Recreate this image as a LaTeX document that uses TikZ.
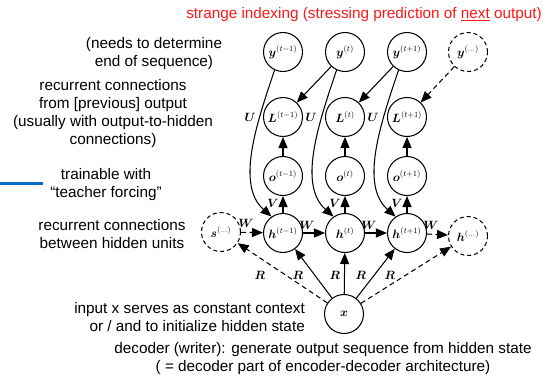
\documentclass[tikz,border=0pt]{standalone}
\usepackage{fontspec}
\setmainfont{Liberation Sans}
\usepackage{bm}
\usetikzlibrary{arrows.meta}
\definecolor{titlered}{RGB}{255,24,24}
\definecolor{markblue}{RGB}{0,108,196}
\begin{document}
\begin{tikzpicture}[x=1pt, y=-1pt,
  unit/.style={circle, draw, line width=1.05pt, minimum size=39pt, inner sep=0pt,
               font=\fontsize{12}{14}\selectfont},
  ghost/.style={unit, dash pattern=on 4pt off 3pt},
  arr/.style={-{Triangle[length=11pt,width=9pt]}, line width=1.05pt},
  dsh/.style={dash pattern=on 5pt off 3.5pt},
  lbl/.style={font=\fontsize{12}{14}\selectfont, inner sep=0pt},
  note/.style={font=\fontsize{15.3}{18}\selectfont, align=center, inner sep=0pt}]
\useasboundingbox (0,0) rectangle (543,380);

% output targets
\node[unit]  (y1) at (283,52)  {$\bm{y}^{(t-1)}$};
\node[unit]  (y2) at (345,52)  {$\bm{y}^{(t)}$};
\node[unit]  (y3) at (407,52)  {$\bm{y}^{(t+1)}$};
\node[ghost] (yd) at (468,52)  {$\bm{y}^{(\dots)}$};
% losses
\node[unit] (L1) at (283,117) {$\bm{L}^{(t-1)}$};
\node[unit] (L2) at (345,117) {$\bm{L}^{(t)}$};
\node[unit] (L3) at (407,117) {$\bm{L}^{(t+1)}$};
% outputs
\node[unit] (o1) at (283,176) {$\bm{o}^{(t-1)}$};
\node[unit] (o2) at (345,176) {$\bm{o}^{(t)}$};
\node[unit] (o3) at (407,176) {$\bm{o}^{(t+1)}$};
% hidden states
\node[ghost] (s)  at (221,232) {$\bm{s}^{(\dots)}$};
\node[unit]  (h1) at (283,233) {$\bm{h}^{(t-1)}$};
\node[unit]  (h2) at (345,233) {$\bm{h}^{(t)}$};
\node[unit]  (h3) at (407,233) {$\bm{h}^{(t+1)}$};
\node[ghost] (hd) at (468,236) {$\bm{h}^{(\dots)}$};
% context input
\node[unit] (x) at (344,314) {$\bm{x}$};

% targets feed the losses
\draw[arr] (y2) -- (L1);
\draw[arr] (y3) -- (L2);
\draw[arr, dsh] (yd) -- (L3);

% output-to-hidden recurrence
\draw[arr] (y1.-115) .. controls (256,125) and (236,185) .. (h1.125);
\draw[arr] (y2.-115) .. controls (318,125) and (298,185) .. (h2.125);
\draw[arr] (y3.-115) .. controls (380,125) and (360,185) .. (h3.125);
\node[lbl] (u1) at (250,117) {$\bm{U}$};
\node[lbl] (u2) at (311,117) {$\bm{U}$};
\node[lbl] (u3) at (373,117) {$\bm{U}$};

% outputs to losses
\draw[arr] (o1) -- (L1);
\draw[arr] (o2) -- (L2);
\draw[arr] (o3) -- (L3);

% hidden to outputs
\draw[arr] (h1) -- (o1);
\draw[arr] (h2) -- (o2);
\draw[arr] (h3) -- (o3);
\node[lbl] (v1) at (273,203) {$\bm{V}$};
\node[lbl] (v2) at (335,203) {$\bm{V}$};
\node[lbl] (v3) at (397,203) {$\bm{V}$};

% hidden-to-hidden recurrence
\draw[arr, dsh] (s) -- (h1);
\draw[arr] (h1) -- (h2);
\draw[arr] (h2) -- (h3);
\draw[arr, dsh] (h3) -- (hd);
\node[lbl] (w0) at (246,223) {$\bm{W}$};
\node[lbl] (w1) at (307,225) {$\bm{W}$};
\node[lbl] (w2) at (369,225) {$\bm{W}$};
\node[lbl] (w3) at (431,225) {$\bm{W}$};

% context to every hidden state
\draw[arr, dsh] (x) -- (s);
\draw[arr] (x) -- (h1);
\draw[arr] (x) -- (h2);
\draw[arr] (x) -- (h3);
\draw[arr, dsh] (x) -- (hd);
\node[lbl] (r0) at (260,275) {$\bm{R}$};
\node[lbl] (r1) at (298,275) {$\bm{R}$};
\node[lbl] (r2) at (335,275) {$\bm{R}$};
\node[lbl] (r3) at (361,275) {$\bm{R}$};
\node[lbl] (r4) at (390,275) {$\bm{R}$};

% annotations
\node[note, text=titlered, anchor=east] (title) at (542,15)
  {strange indexing (stressing prediction of \underline{next} output)};
\node[note] (n1) at (154,54) {(needs to determine\\end of sequence)};
\node[note] (n2) at (113,114) {recurrent connections\\from [previous] output\\(usually with output-to-hidden\\connections)};
\node[note] (n3) at (106,185) {trainable with\\“teacher forcing”};
\node[note] (n4) at (112,234) {recurrent connections\\between hidden units};
\node[note, align=right, anchor=east] (n5) at (305,317) {input x serves as constant context\\or / and to initialize hidden state};
\node[note] (n6) at (323,359) {decoder (writer): generate output sequence from hidden state\\( = decoder part of encoder-decoder architecture)};

% blue marker bar
\coordinate (b0) at (0,183);
\coordinate (b1) at (43,183);
\draw[markblue, line width=3pt] (b0) -- (b1);
\end{tikzpicture}
\end{document}
